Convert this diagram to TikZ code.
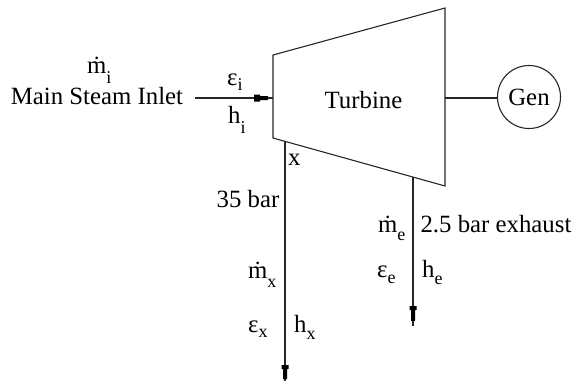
\documentclass[tikz,border=0pt]{standalone}
\usepackage{fontspec}
\setmainfont{Liberation Serif}
\tikzset{
  lbl/.style={inner sep=0pt,font=\fontsize{24.8}{27}\selectfont,anchor=base},
  lw/.style={lbl,anchor=base west},
  line/.style={draw=black!85,line width=1.1pt},
  head/.style={fill=black,draw=none}
}
\newcommand{\sbs}[2]{\raisebox{-#1pt}{\fontsize{18}{20}\selectfont #2}}
\begin{document}
\begin{tikzpicture}[x=1pt,y=-1pt]
\useasboundingbox (0,0) rectangle (574,381);
\coordinate (tl) at (273,55);
\coordinate (tr) at (445,8);
\coordinate (br) at (445,186);
\coordinate (bl) at (273,138);
\draw[line] (tl)--(tr)--(br)--(bl)--cycle;
\node[circle,line,minimum size=63pt,inner sep=0pt,font=\fontsize{24.8}{27}\selectfont] (gen) at (529,97) {\raisebox{-2pt}{Gen}};
\coordinate (tin) at (273,98);
\coordinate (tout) at (445,98);
\coordinate (inl) at (195,98);
\draw[line] (tout)--(tout -| gen.west);
\draw[line] (inl)--(tin);
\fill[head] (254,94.5)--(260,94.5)--(260,96)--(268,96)--(268,100)--(260,100)--(260,101.5)--(254,101.5)--cycle;
\coordinate (xt) at (285,141);
\coordinate (xb) at (285,381);
\coordinate (et) at (413,177);
\coordinate (eb) at (413,326);
\draw[line] (xt)--(xb);
\draw[line] (et)--(eb);
\fill[head] (281.5,365)--(288.5,365)--(288.5,369)--(287,369)--(287,379)--(283,379)--(283,369)--(281.5,369)--cycle;
\fill[head] (409.5,306)--(416.5,306)--(416.5,310)--(415,310)--(415,321)--(411,321)--(411,310)--(409.5,310)--cycle;
\node[lw] (t1) at (87,73) {\.m\sbs{10}{i}};
\node[lbl] (t2) at (97,104) {Main Steam Inlet};
\node[lw] (t3) at (227,85) {ε\sbs{5}{i}};
\node[lw] (t4) at (228,123) {h\sbs{10}{i}};
\node[lbl] (t5) at (363.5,108) {Turbine};
\node[lw] (t6) at (288,165) {x};
\node[lbl] (t7) at (248,207) {35 bar};
\node[lw] (t8) at (248,278) {\.m\sbs{9}{x}};
\node[lw] (t9) at (248,332) {ε\sbs{5}{x}};
\node[lw] (t10) at (294,332) {h\sbs{7}{x}};
\node[lw] (t11) at (378,232) {\.m\sbs{8}{e}};
\node[lbl] (t12) at (496,232) {2.5 bar exhaust};
\node[lw] (t13) at (377,277) {ε\sbs{6}{e}};
\node[lw] (t14) at (422,277) {h\sbs{7}{e}};
\end{tikzpicture}
\end{document}
